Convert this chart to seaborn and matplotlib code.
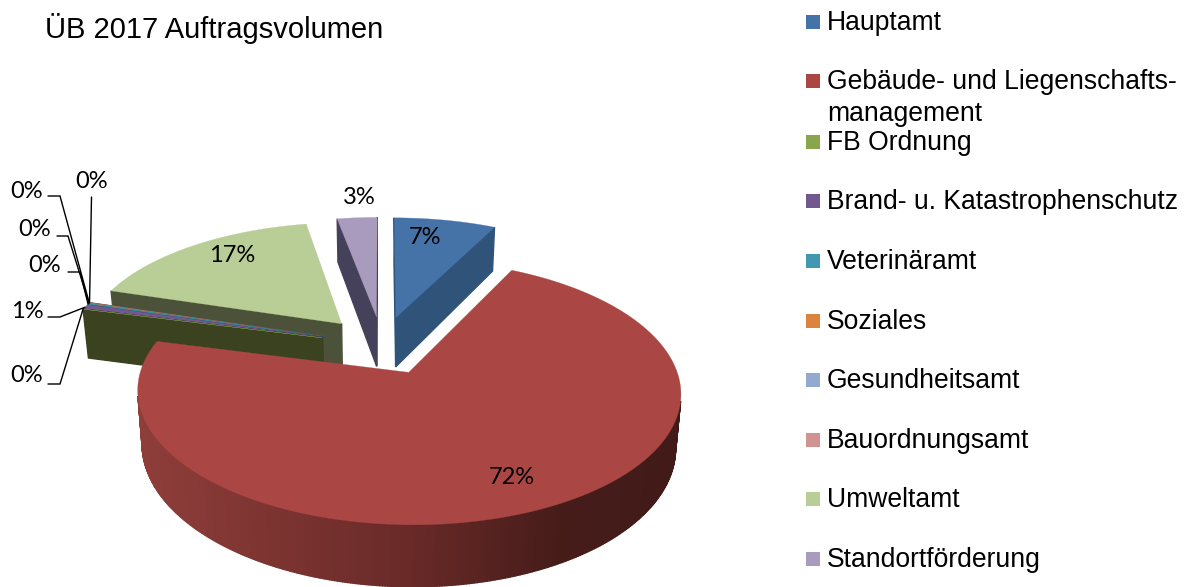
import numpy as np
import matplotlib
matplotlib.use('Agg')
import matplotlib.pyplot as plt
import seaborn as sns
from matplotlib.patches import Polygon, Rectangle

# Values (percent)
categories = ['Hauptamt', 'Gebäude- und Liegenschafts-\nmanagement', 'FB Ordnung',
              'Brand- u. Katastrophenschutz', 'Veterinäramt', 'Soziales',
              'Gesundheitsamt', 'Bauordnungsamt', 'Umweltamt', 'Standortförderung']
values = [7.4, 71.6, 0.02, 0.58, 0.12, 0.03, 0.03, 0.03, 17.3, 2.9]

top_colors = ['#4572A7', '#AA4643', '#89A54E', '#71588F', '#4198AF',
              '#DB843D', '#93A9CF', '#D19392', '#B9CD96', '#A99BBD']
wall_colors = ['#30537A', '#6E2D2A', '#3A421F', '#3D2F4E', '#23525F',
               '#77471F', '#505C70', '#71504F', '#4C5239', '#45415A']

# data label positions in pixels
label_pos = [(425, 238), (512, 477), (27, 376), (27, 311), (45, 266),
             (35, 229), (27, 191), (92, 181), (232, 256), (359, 197)]
# elbow of leader line, only for the very small slices
leader_elbows = {2: [(48, 384), (60, 384)], 3: [(48, 317), (60, 317)],
                 4: [(68, 272), (80, 272)], 5: [(57, 236), (68, 236)],
                 6: [(48, 196), (60, 196)], 7: [(91.5, 197)]}

# perspective of the 3d pie, fitted on the picture
Ox, Oy = 382, 345
R, S, P, H = 260, 121.5, 0.145, 51
explode = 0.24


def project(x, y, z=0):
    w = 1 + P * y
    return Ox + R * x / w * (1 - 0.018 * z), Oy - S * y / w + H * z / w


def rim(wedge, n_per_deg=2):
    n = max(int((wedge.theta2 - wedge.theta1) * n_per_deg), 2)
    a = np.radians(np.linspace(wedge.theta1, wedge.theta2, n))
    cx, cy = wedge.center
    return cx + wedge.r * np.cos(a), cy + wedge.r * np.sin(a)


def red_shade(sx):
    r = np.interp(sx, [140, 410, 560, 680], [143, 105, 70, 65])
    g = np.interp(sx, [140, 410, 560, 680], [62, 42, 28, 27])
    b = np.interp(sx, [140, 410, 560, 680], [58, 40, 25, 24])
    return (r / 255, g / 255, b / 255)


sns.set_theme(style='white')
plt.rcParams['font.family'] = ['Liberation Sans', 'DejaVu Sans']

fig = plt.figure(figsize=(11.88, 5.87), dpi=100)
ax = fig.add_axes([0, 0, 1, 1])

# pie only used to get the angles and offsets of the slices
wedges, _ = ax.pie(values, explode=[explode] * len(values), startangle=90,
                   counterclock=False, colors=top_colors, radius=1)
order = sorted(range(len(wedges)), key=lambda i: -wedges[i].center[1])

geom = {}
for i in order:
    w = wedges[i]
    xs, ys = rim(w)
    geom[i] = (xs, ys, w.center)

for w in wedges:
    w.remove()
ax.set_aspect('auto')
ax.set_xlim(0, 1188)
ax.set_ylim(587, 0)
ax.axis('off')


def add_wall(p1, p2, color, z):
    pts = np.array([project(*p1), project(*p2), project(*p2, 1), project(*p1, 1)])
    area = np.sum(pts[:, 0] * np.roll(pts[:, 1], -1) - np.roll(pts[:, 0], -1) * pts[:, 1])
    if area <= 0:
        return
    if color is None:
        color = red_shade(pts[:, 0].mean())
    ax.add_patch(Polygon(pts, closed=True, facecolor=color, edgecolor=color, lw=1.0, zorder=z))


z = 1
for i in order:
    xs, ys, c = geom[i]
    # side walls, back facing ones are skipped
    add_wall(c, (xs[0], ys[0]), wall_colors[i], z)
    add_wall((xs[-1], ys[-1]), c, wall_colors[i], z)
    for k in range(len(xs) - 1):
        add_wall((xs[k], ys[k]), (xs[k + 1], ys[k + 1]), None if i == 1 else wall_colors[i], z)
    # top face
    px, py = project(np.r_[c[0], xs], np.r_[c[1], ys])
    ax.add_patch(Polygon(np.c_[px, py], closed=True, facecolor=top_colors[i],
                         edgecolor=top_colors[i], lw=0.2, zorder=z + 0.5))
    z += 1

# leader lines for the small slices
for i, elbow in leader_elbows.items():
    xs, ys, c = geom[i]
    end = project(xs[len(xs) // 2], ys[len(ys) // 2])
    line = elbow + [end]
    ax.plot([p[0] for p in line], [p[1] for p in line], color='black', lw=1.0,
            solid_joinstyle='miter', zorder=50)

# data labels
total = sum(values)
for v, (lx, ly) in zip(values, label_pos):
    ax.text(lx, ly, f'{v / total * 100:.0f}%', family='Lato', fontsize=17, color='black',
            ha='center', va='center', zorder=60)

ax.text(45, 28, 'ÜB 2017 Auftragsvolumen', fontsize=21, color='black', ha='left', va='center')

# legend, spacing is not regular so it is placed by hand
legend_y = [22, 97, 142, 201, 261, 321, 380, 440, 499, 559]
for name, col, ly in zip(categories, top_colors, legend_y):
    first_y = ly - 16 if '\n' in name else ly
    ax.add_patch(Rectangle((806, first_y - 7), 14, 14, facecolor=col, edgecolor='none', zorder=60))
    ax.text(827, ly + 1, name, fontsize=19.1, color='black', ha='left', va='center',
            linespacing=1.3, zorder=60)

fig.savefig('out.png', dpi=100)
